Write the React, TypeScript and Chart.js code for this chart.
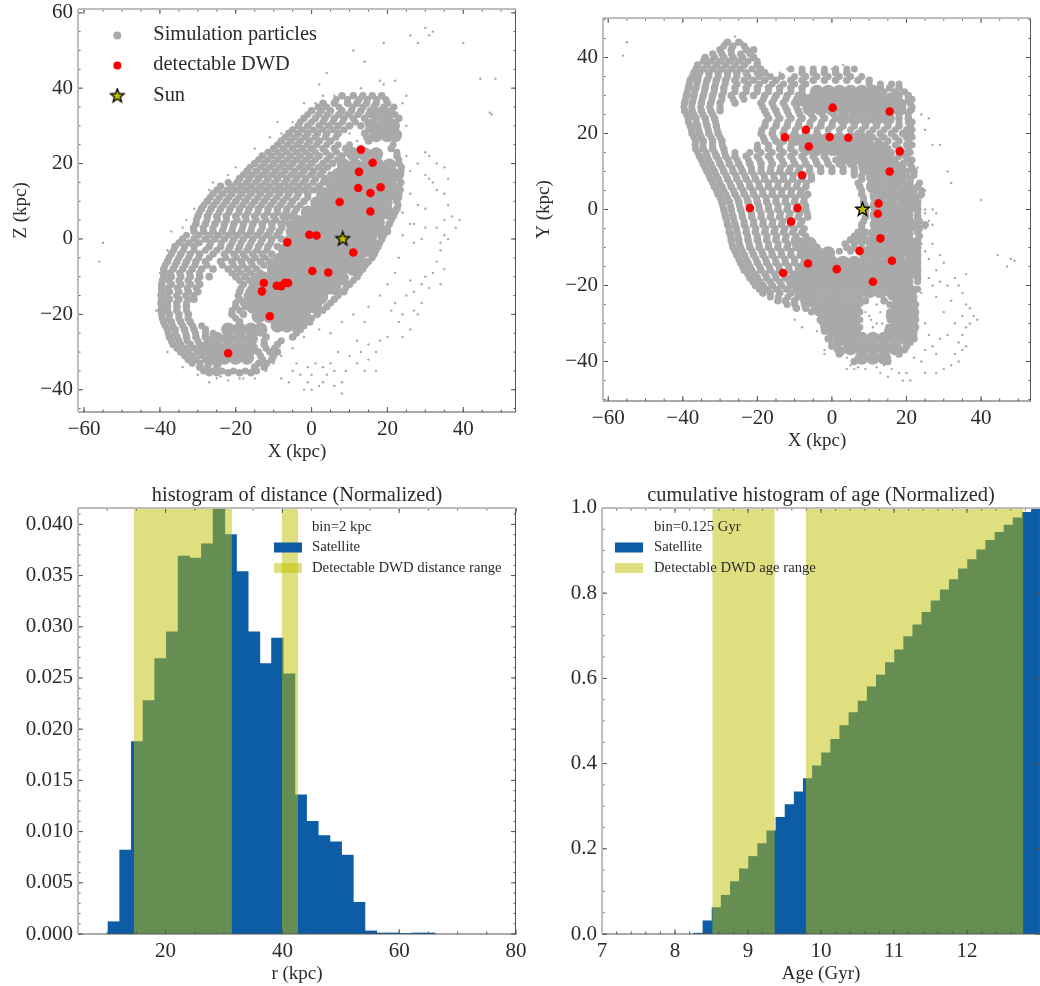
import React, { useEffect, useRef } from "react";
import { Chart, registerables } from "chart.js";

Chart.register(...registerables);

const FONT = "'Liberation Serif', serif";
const TEXT = "#2b2b2b";
const GRAY = "#a9a9a9";
const BLUE = "#0c5da5";
const SPAN = "rgba(191,191,0,0.5)";

// ---------- detectable binaries & Sun ----------
const dwdX = [13, 16.1, 12.5, 12.3, 18.2, 15.5, 7.4, 15.5, -0.6, 1.3, -6.4, 11, 0.2, 4.4, -12.6, -13.1, -9.2, -8, -7, -6.2, -11, -22];
const dwdZ = [23.7, 20.2, 17.8, 13.5, 13.7, 12.2, 9.8, 7.3, 1.1, 0.9, -0.9, -3.6, -8.5, -8.9, -11.7, -13.9, -12.4, -12.5, -11.6, -11.7, -20.5, -30.3];
const dwdY = [-7.6, -13.5, 1.6, -1.1, 15.3, 25.8, -10.9, 10, 19.1, -15.7, -14.2, -19, 26.8, 18.9, 19, -16.7, 0.4, 9, 21, 16.6, -3.2, 0.4];
const sunX = 8.2;
const sunY = 0;

// ---------- X-Z particles, as rows [z, x, x, ...] ----------
const xzCore = [
  [22.5, 11, 14, 17], [19.5, 8.5, 11.5, 14.5, 17.5, 20.5], [17, 7, 10, 13, 16, 19, 21.5], [14.5, 5.5, 8.5, 11.5, 14.5, 17.5, 20.5],
  [12, 3, 6, 9, 12, 15, 18, 21], [9.5, 1.5, 4.5, 7.5, 10.5, 13.5, 16.5, 19.5], [7, -1, 2, 5, 8, 11, 14, 17, 20], [4.5, -3.5, -0.5, 2.5, 5.5, 8.5, 11.5, 14.5, 17.5],
  [2, -5, -2, 1, 4, 7, 10, 13, 16, 18], [-0.5, -5.5, -2.5, 0.5, 3.5, 6.5, 9.5, 12.5, 15.5], [-3, -7, -4, -1, 2, 5, 8, 11, 14, 15.5], [-5.5, -8.5, -5.5, -2.5, 0.5, 3.5, 6.5, 9.5, 12.5],
  [-8, -10, -7, -4, -1, 2, 5, 8, 11], [-10.5, -12.5, -9.5, -6.5, -3.5, -0.5, 2.5, 5.5, 8], [-13, -14, -11, -8, -5, -2, 1, 4, 6], [-15.5, -15, -12.5, -9.5, -6.5, -3.5, -0.5, 2.5],
  [-18, -15.5, -13, -10, -7, -4, -1, 1], [-20.5, -14, -11, -8, -5, -2], [-23, -9, -6.5, -4],
  [-24, -22, -19, -16, -13.5], [-26.5, -25, -22, -19, -16], [-29, -28, -25, -22, -19, -16], [-31.5, -26, -23, -20, -17],
  [33, 17, 20], [30, 16, 19, 21.5], [27.5, 17, 20, 22],
];
const xzBand = [
  [38, 8, 11, 13.5, 16, 18.5], [36, 3, 6, 9.5, 12, 14.5, 17, 20], [34, 0, 2.5, 5, 8, 10.5, 13, 15.5, 18, 21], [32, -2, 1, 3.5, 6, 8.5, 11, 14, 23],
  [30, -3.5, -1, 2, 4.5, 7, 10, 13], [28, -6, -3.5, -1, 1.5, 4, 7, 14], [26, -8, -5.5, -3, -0.5, 2, 5, 15], [24, -10, -7.5, -5, -2.5, 0, 3, 6, 9, 21],
  [22, -13, -10.5, -8, -5.5, -3, -0.5, 2, 5, 8, 22.5], [20, -15, -12.5, -10, -7.5, -5, -2.5, 0, 3, 5.5, 23], [18, -17, -14.5, -12, -9.5, -7, -4.5, -2, 0.5, 3, 23.5], [16, -19, -16.5, -14, -11.5, -9, -6.5, -4, -1.5, 1, 3.5, 23],
  [14, -24, -21, -18.5, -16, -13.5, -11, -8.5, -6, -3.5, -1, 2, 23], [12, -26, -23.5, -21, -18.5, -16, -13.5, -11, -8.5, -6, -3.5, -1, 23], [10, -27.5, -25, -22.5, -20, -17.5, -15, -12.5, -10, -7.5, -5, -2, 22.5], [8, -29, -26.5, -24, -21.5, -19, -16.5, -14, -11.5, -9, -6.5, -4, 22.5],
  [6, -30, -27.5, -25, -22.5, -20, -17.5, -15, -12.5, -10, -7.5, -5.5, 21.5], [4, -30.5, -28, -25.5, -23, -20.5, -18, -15.5, -13, -10.5, -8, -6, 20.5], [2, -31, -28.5, -26, -23.5, -21, -18.5, -16, -13.5, -11, -8.5, 20], [0, -34, -31, -28, -25.5, -23, -20.5, -18, -15.5, -13, -10.5, -8, 18.5],
  [-2, -36, -33.5, -31, -27, -24, -21.5, -19, -16.5, -14, -11.5, -9, 17.5], [-4, -37, -34.5, -32, -29.5, -26, -23, -20.5, -18, -15.5, -13, -10.5, 16.5], [-6, -38, -35.5, -33, -30.5, -28, -24, -21, -18.5, -16, -13.5, -11, 15], [-8, -39, -36.5, -34, -31.5, -29, -26, -22, -19.5, -17, -14.5, 13.5],
  [-10, -39, -37, -34.5, -32, -29.5, -27, -20, -17.5, -15, 12], [-12, -39.5, -37, -34.5, -32, -29.5, -18, -15.5, 10], [-14, -39.5, -37.5, -35, -32.5, -30, -19, -16.5, 8.5], [-16, -39.5, -37.5, -35, -32.5, -31, -19, -17, 6],
  [-18, -39.5, -38, -35.5, -33, -20, -17.5, 4], [-20, -39.5, -37.5, -35, -32.5, -21, -18, 1.5], [-22, -39, -37, -34.5, -32, -19, -0.5], [-24, -38, -36, -33.5, -31, -28, -3],
  [-26, -37.5, -35.5, -33, -30.5, -28, -26, -12, -5], [-28, -36.5, -34.5, -32, -29.5, -27, -12.5, -9], [-30, -34.5, -32.5, -30, -27.5, -14, -11, -9], [-32, -32.5, -30.5, -28, -13, -10.5],
  [-34, -29.5, -27.5, -25, -15, -12.5], [-35.5, -27, -25, -22, -19, -16],
];
const xzFill = [
  [37, 6.5, 9.5, 12.5, 14.7, 17.2, 19.6], [35, 1.7, 4, 7.2, 10.8, 13.6, 16.4, 19, 21.7], [33, -1, 1.8, 4.2, 7.1, 9.6, 12.3, 15, 22], [31, -3, 0, 3, 5.6, 8.2, 11.5, 14.8],
  [29, -5, -2.3, 0.4, 3, 5.7, 8.6, 15], [27, -7, -4.5, -1.8, 0.9, 3.6, 6.4, 14.5], [25, -9, -6.4, -3.9, -1.2, 1.3, 4, 7, 10, 21.5], [23, -11.5, -9, -6.6, -4, -1.6, 1, 3.8, 6.6, 9.4, 22.5],
  [21, -14, -11.6, -9, -6.4, -4, -1.5, 1, 4, 6.8, 23], [19, -16.2, -13.4, -11, -8.4, -6, -3.2, -1, 1.8, 4.2, 23.7], [17, -18, -15.6, -13, -10.4, -8, -5.3, -3, -0.2, 2.2, 5, 23.5], [15, -22, -19.7, -17.2, -14.8, -12.2, -9.8, -7.2, -4.8, -2.2, 0.4, 3, 23.6],
  [13, -25, -22.3, -19.8, -17.2, -14.8, -12.2, -9.6, -7.2, -4.8, -2.2, 0.5, 23.4], [11, -26.8, -24.3, -21.8, -19.2, -16.8, -14.2, -11.8, -9.2, -6.6, -4, -1, 23], [9, -28.4, -25.8, -23.2, -20.8, -18.2, -15.8, -13.2, -10.8, -8.2, -5.6, -3, 22.8], [7, -29.6, -27, -24.4, -21.8, -19.2, -16.8, -14.2, -11.6, -9, -6.8, -4.5, 22],
  [5, -30.4, -27.6, -24.8, -22.4, -19.6, -17.2, -14.6, -12, -9.4, -7, 21], [3, -31.2, -28.6, -26, -23.2, -20.8, -18.2, -15.8, -13, -10.4, -7.8, 20], [1, -33, -29.8, -27, -24.6, -22, -19.6, -17, -14.4, -11.8, -9.2, 19], [-1, -35, -32.4, -29.6, -26.6, -23.8, -21, -18.6, -16, -13.4, -10.8, 18],
  [-3, -36.4, -33.8, -31, -28, -25, -22, -19.4, -17, -14.4, -11.8, 17], [-5, -37.6, -35, -32.4, -29.8, -27, -22.6, -19.8, -17.4, -14.8, -12.2, 16], [-7, -38.6, -36, -33.4, -30.8, -27.6, -23.5, -20.6, -18.2, -15.6, -12.6, 14.2], [-9, -39, -37.4, -34.8, -32.2, -29.6, -21, -18.6, -16, -13.5, 12.6],
  [-11, -39.4, -37.6, -35, -32.6, -30, -19, -16.4, -14.5, 11], [-13, -39.6, -37.8, -35.4, -32.8, -30.4, -18.6, -16, 9], [-15, -39.8, -38.2, -35.6, -33.2, -31, -19.4, -17, 7], [-17, -39.8, -38, -35.6, -33, -20, -18, 5],
  [-19, -39.8, -38, -35.6, -33, -21, -19, 3], [-21, -39.4, -37.6, -35, -32.6, -20, 0], [-23, -38.6, -36.6, -34, -31.4, -29, -2], [-25, -37.8, -36, -33.2, -30.6, -28, -26, -13, -4],
  [-27, -37, -35, -32.8, -30, -27.5, -12.5, -8], [-29, -35.5, -33.4, -31, -28.6, -12, -9.8], [-31, -33.5, -31.4, -29, -26.6, -13.5, -10], [-33, -31.5, -29.4, -27, -24.5, -14, -11.8],
  [-35, -28.5, -26.4, -23.6, -20.6, -17.5, -14.5],
];
const xzSparseX = [25, 26, 28, 30, 31, 33, 35, 36, 31, 32, 30, 33, 35, 26, 28, 30, 36, 37, 35, 38, 39, 33, 35, 34, 36, 30, 29, 27, 34, 33, 35, 32, 30, 31, 34, 29, 27, 26, 25, 24, 27, 29, 28, 26, 23, 21, 22, 24, 20, 18, 17, 15, 13, 12, 15, 12, 10, 9, 14, 17, 8, 6, 5, 3, 1, 0, -1, -3, -5, -8, -6, -2, 0, 2, 3, -4, 7, 6, 8, 4, -1, 24, 26, 24, 27, 23, 22, 20, 18, 15, 14, 11, 8, 5, 2, -2, -5, -8, -10, -12, -15, -18, 25, 23, 24, 25, 22, 18, 19, 13, 6, 3, 1, -2, -1, -5, -8, -11, -9, -15, -20, -22, -26, -27, -31, -34, -33, -37, -38, -40, -41, -38, -34, -30, -27, -55, -56, 30, 31, 32, 26, 28, 19, 40, 11, 14, 4, 2, 44.5, 48.5, 47, 47.5, 10, 12, 8, 7, 11, -25, -22, -19, -24];
const xzSparseZ = [22, 18, 20, 23, 22, 20, 19, 16, 16, 15, 17, 13, 12, 12, 9, 8, 9, 6, 5, 3, 5, 3, 1, -1, 0, 3, 0, -1, -3, -6, -8, -9, -10, -13, -12, -12, -14, -11, -15, -20, -19, -17, -20, -24, -22, -19, -17, -26, -26, -27, -30, -28, -30, -27, -32, -33, -31, -35, -35, -35, -38, -35, -33, -34, -33, -36, -34, -36, -35, -37, -38, -40, -40, -39, -38, -33, -30, -39, -41, -36, -38, 7, 4, 1, 4, -5, -9, -12, -15, -18, -22, -20, -22, -25, -24, -26, -29, -31, -33, -35, -37, -37, 30, 32, 36, 38, 42, 42, 41, 40, 38, 38, 36, 36, 33, 31, 28, 27, 31, 24, 19, 17, 15, 13, 8, 3, 5, 2, -3, -9, -19, -30, -34, -36, -38, -1, -6, 56, 54, 55, 54, 52, 52, 52, 50, 47, 44, 41, 42.5, 42.5, 33.5, 33, 28, 26, 29, 25, 24, -37, -37.5, -37, -36.5];

// ---------- X-Y particles, as rows [y, x, x, ...] ----------
const xyCore = [
  [-39, 8, 11, 14], [-36.5, 5, 8, 11, 14, 17], [-34, 2, 5, 8, 11, 14, 17, 20], [-31.5, 0, 3, 6, 16.5, 19, 21],
  [-29, -2, 1, 4, 6, 17.5, 20, 21], [-26.5, -3, 0, 3, 6, 17.5, 20, 21], [-24, -5, -2, 1, 4, 7, 18, 20, 21], [-21.5, -8, -5, -2, 1, 4, 7, 10, 13, 16, 19, 21],
  [-19, -10, -7, -4, -1, 2, 5, 8, 11, 14, 17, 20], [-16.5, -8, -5, -2, 1, 4, 7, 10, 13, 16, 19, 21], [-14, -6, -3, 0, 3, 6, 9, 12, 15, 18, 21], [-11.5, -7, -4, -1, 9, 12, 15, 18, 21],
  [-9, -9, -6, 11, 13, 16, 19, 21], [-6.5, 11.5, 14, 17, 20], [-4, 12, 15, 18, 21], [-1.5, 12, 14, 17, 20],
  [1, 12, 13, 16, 19, 21], [3.5, 12, 13, 16, 19, 20.5], [6, 11, 13, 16, 19], [8.5, 11, 13, 16, 18],
  [11, 9, 11, 14, 17], [13.5, 3, 6, 9, 12, 15], [16, -5, -2, 1, 4, 7, 10, 13], [18.5, -10, -7, -4, -1, 2, 5, 8],
  [24, 3, 6, 9, 12, 15], [26.5, -6, -3, 0, 3, 6, 9, 12, 15, 18], [29, -8, -5, -2, 1, 4, 7, 10, 13, 16], [31, -4, -1, 2, 5, 8, 11],
];
const xyBand = [
  [44, -28, -25], [42, -30, -27, -23, -21], [40, -34, -31.5, -29, -26.5, -24, -21], [38, -36, -33.5, -31, -28.5, -26, -23.5, -20],
  [36, -37, -35.5, -33, -30.5, -28, -25.5, -23, -20, -18, -8, -5, -2, 1, 4], [34, -38, -36, -33.5, -31, -28.5, -26, -23.5, -21, -18, -15, -11, -8, -5, -2, 1, 4, 7, 10], [32, -38.5, -36.5, -34, -31.5, -29, -26, -23, -20, -17, -14, -11, -8, 13, 15.5, 18], [30, -39, -37, -34.5, -32, -29.5, -27, -24, -21, -18, -15, -12, -9, 18, 20.5],
  [28, -39.5, -37.5, -35, -32.5, -30, -26, -19, -16, -13, -10, -7, 19, 21], [26, -39.5, -37.5, -35, -32.5, -30, -18, -15, -12, -9, -6.5, 19, 21], [24, -38.5, -36.5, -34, -31.5, -17, -14, -11, -8, -5, -2, 1, 18, 20.5], [22, -38, -36, -33.5, -31, -18, -15, -12, -9, -6, -3, 0, 3, 6, 9, 12, 15, 18, 21],
  [20, -37.5, -35.5, -33, -30.5, -19, -16, -13, -10, -7, -4, 7, 10, 13, 16, 19, 21], [18, -36.5, -34.5, -32, -29.5, -18, -15, -13, 10, 12.5, 15, 18, 20.5], [16, -36.5, -34.5, -32, -29, -20, -17, -14, -11, -8, 15, 18, 20.5], [14, -35.5, -33.5, -31, -28.5, -26, -23, -20, -17, -14, -11, -8, -5, -2, 18, 20],
  [12, -34.5, -32.5, -30, -27.5, -25, -22, -19, -16, -13, -10, -7, -4, -1, 2, 5, 8, 11, 14, 16, 19, 21], [10, -33.5, -31.5, -29, -26.5, -24, -21.5, -19, -16.5, -14, -11.5, -9, -6, -3, 0, 3, 6, 20, 22], [8, -32.5, -30.5, -28, -25.5, -23, -20.5, -18, -15.5, -13, -10.5, -8, -5.5, 8, 19, 21], [6, -31.5, -29.5, -27, -24.5, -22, -19.5, -17, -14.5, -12, -9.5, -7, 7.5, 21, 23],
  [4, -30.5, -28.5, -26, -23.5, -21, -18.5, -16, -13.5, -11, -8.5, -6.5, 8, 22, 24], [2, -29.5, -27.5, -25, -22.5, -20, -17.5, -15, -12.5, -10, -7.5, 8.5, 23], [0, -29, -27, -24.5, -22, -19.5, -17, -14.5, -12, -9.5, -7, 9, 23], [-2, -28.5, -26.5, -24, -21.5, -19, -16.5, -14, -11.5, -9, -6.5, 9, 23],
  [-4, -28, -26, -23.5, -21, -18.5, -16, -13.5, -11, -8.5, 8, 23, 25], [-6, -27.5, -25.5, -23, -20.5, -18, -15.5, -13, -10.5, -8, 7, 9, 23], [-8, -27, -25, -22.5, -20, -17.5, -15, -12.5, -10, -7, 5, 7, 9, 23], [-10, -26.5, -24.5, -22, -19.5, -17, -14.5, -12, -9.5, -4, 4, 6, 23],
  [-12, -25.5, -23.5, -21, -18.5, -16, -13.5, -11, -8.5, 23], [-14, -24.5, -22.5, -20, -17.5, -15, -12.5, -10, -7.5, 23], [-16, -23.5, -21.5, -19, -16.5, -14, -11.5, -9, 23], [-18, -22, -20, -17.5, -15, -12.5, -11, 23],
  [-20, -20.5, -18.5, -16, -13.5, -11], [-22, -18.5, -16.5, -14, -11, -9], [-24, -14.5, -12.5, -10, -7.5, -4.5, 9, 14], [-26, -9.5, -7, -4.5, 22],
  [-28, 15.5, 22], [-30, 22], [-32, -2, 15, 22], [-34, -1, 22], [-36, 0, 1.5, 20], [-38, 2, 18], [-40, 6, 15],
];
const xyFill = [
  [43, -29, -26.5, -23.5], [41, -32, -29.5, -27, -24.5, -22], [39, -34.5, -32.5, -30, -27.5, -25, -22.5, -20], [37, -36.5, -34.5, -32, -29.5, -27, -24.5, -21.5, -19, -11, -8, -5, -2, 1, 4, 6],
  [35, -37.5, -35.8, -33, -30.5, -28, -25.5, -22.5, -19.5, -16.5, -13.5, -10, -7, -4, -1, 2, 5, 8], [33, -38.3, -36.2, -33.8, -31.2, -28.6, -25.4, -22.4, -19.4, -16, -13, -10, -7, 10, 13, 16, 18], [31, -38.8, -36.8, -34.2, -31.6, -29, -26, -23, -20, -17, -14, -11, -8, -5, 12, 14, 17, 19.5], [29, -39.3, -37.2, -34.8, -32.2, -29.5, -26.5, -23.6, -18.4, -15.5, -12.4, -9.5, 18, 20.5, 21.5],
  [27, -39.7, -37.6, -35.2, -32.8, -30, -18.6, -15.6, -12.5, -9.5, -7, -4, 19, 21.5], [25, -39, -37, -34.6, -32, -17.5, -14.6, -11.6, -8.6, -5.5, -2.5, 0.5, 18, 20.5], [23, -38.5, -36.4, -33.8, -31.2, -17.8, -14.8, -11.8, -8.8, -5.8, -2.8, 0.2, 3, 6, 9, 12, 15, 18, 20.5, 21.5], [21, -37.7, -35.8, -33.2, -30.8, -18.8, -15.8, -12.8, -9.8, -4, -1, 2, 5, 8, 11, 14, 17, 20, 21.5],
  [19, -37, -35, -32.4, -30, -18.4, -15.6, -12.6, 11, 14, 17, 20, 21.5], [17, -36.7, -34.6, -32, -29.4, -20, -17, -14, -11, -8, -1, 2, 5, 8, 11, 14, 17, 20, 21.5], [15, -36, -33.8, -31.4, -28.8, -26, -22, -19, -16, -13, -10, -7, -4, 0, 16, 19, 21], [13, -35, -33, -30.4, -27.8, -25.4, -22.4, -19.4, -16.4, -13.4, -10.4, -7.4, -4.4, -1.4, 1, 17, 20, 21.5],
  [11, -34, -32, -29.4, -26.8, -24.4, -21.6, -19, -16.4, -13.8, -11.2, -8.6, -6, -3, 0, 3, 6, 19, 21.5], [9, -33, -31, -28.4, -25.8, -23.4, -20.8, -18.2, -15.6, -13, -10.4, -7.8, -5.5, 6, 8, 20, 22], [7, -32, -30, -27.4, -24.8, -22.2, -19.6, -17, -14.4, -11.8, -9.2, -6.8, 7, 21, 23.5], [5, -31, -29, -26.4, -23.8, -21.2, -18.6, -16, -13.4, -10.8, -8.2, 8, 22, 24],
  [3, -30, -28, -25.4, -22.8, -20.2, -17.6, -15, -12.4, -9.8, -7.4, 8.5, 22.6], [1, -29.3, -27.2, -24.8, -22.2, -19.6, -17, -14.4, -11.8, -9.2, -7, 9, 23], [-1, -28.8, -26.8, -24.2, -21.6, -19, -16.4, -13.8, -11.2, -8.6, -6.6, 9, 23], [-3, -28.2, -26.2, -23.6, -21, -18.4, -15.8, -13.2, -10.6, -8, 8.5, 23.5],
  [-5, -27.6, -25.6, -23, -20.4, -17.8, -15.2, -12.6, -10, -7.4, 8, 23.5], [-7, -27.2, -25.2, -22.6, -20, -17.4, -14.8, -12.2, -9.6, -7, 6, 8, 23.5], [-9, -26.8, -24.8, -22.2, -19.6, -17, -14.4, -11.8, -9.2, -5, 3.5, 6, 8, 23], [-11, -26, -24, -21.4, -18.8, -16.2, -13.6, -11, -8.4, -5, 2, 5, 23],
  [-13, -25, -23, -20.4, -17.8, -15.2, -12.6, -10, -7.4, -4.5, 23], [-15, -24, -22, -19.4, -16.8, -14.2, -11.6, -9, -6, 23], [-17, -22.6, -20.6, -18, -15.4, -12.8, -10.2, 23], [-19, -21.2, -19.2, -16.6, -14, -11.4, 23],
  [-21, -19.5, -17.4, -14.8, -12.2, -9.6, 23], [-23, -16.5, -14.4, -11.8, -9.2, -6.6, 16, 22], [-25, -12, -10, -7.4, -4.8, 15.5, 22.5], [-27, -5.5, -3.8, 7.5, 15.5, 22.5],
  [-29, -3.2, 7.5, 15.6, 22.5], [-31, -2.2, 7.5, 15.2, 22.5], [-33, -0.5, 22], [-35, 0, 1, 3, 21],
  [-37, 1.5, 3, 19.5],
];
const xySparseX = [25, 28, 30, 32, 34, 33, 35, 34, 36, 35, 36, 37, 38, 39, 37, 35, 33, 31, 29, 27, 28, 25, 24, 22, 20, 18, 21, 19, 16, 15, 13, 36, 35, 34, 32, 30, 28, 27, 26, 29, 31, 33, 36, 30, 28, 26, 25, 24, 27, 29, 25, 26, 27, 25, 27, 28, 25, 24, 24, 25, 23, 25, 26, 22, 24, 27, 29, 31, 32, 40, 44.5, 47, 48, 49, -55, -56, -26, -29, -24, 3, 0, -12, -14, -2, -10, -8, -4, 1, 3, 4, 6, -2, 25, 26, 23, 24, 23, 9, 10.5, 12, 13.5, 9.5, 11, 13, 10, 12, 14, 5, 7, 9, 12, 14, 4, 17];
const xySparseY = [-43, -43, -42, -41, -40, -38, -37, -35, -36, -33, -31, -30, -28, -29, -26, -28, -30, -33, -34, -36, -38, -37, -40, -39, -43, -43, -45, -45, -42, -44, -43, -25, -22, -20, -24, -27, -23, -20, -18, -19, -20, -18, -17, -14, -16, -13, -11, -9, -9, -12, -5, -3, -4, 0, 0, -1, -1, 3, 7, 5, 11, 21, 24, 26, 25, 17, 17, 10, 7, 2.5, -12, -15, -13, -13.5, 44, 40.5, 45.5, 44, 44, 38, 37, 37, 36, -38, -29, -31, -32, -36, -38, -42, -42, -37, -30, -33, -28, -22, -18, -27, -29, -25, -30, -24, -31, -27, -28, -30, -24, -41, -41.5, -42, -41.5, -41, -39, -38];

// ---------- histograms ----------
const rBins = [11.14, 13.14, 15.14, 17.14, 19.14, 21.14, 23.14, 25.14, 27.14, 29.14, 31.14, 33.14, 35.14, 37.14, 39.14, 41.14, 43.14, 45.14, 47.14, 49.14, 51.14, 53.14, 55.14, 57.14, 59.14, 61.14, 63.14, 65.14];
const rDensity = [0.0012, 0.0082, 0.0188, 0.0228, 0.0269, 0.0295, 0.0369, 0.0367, 0.0381, 0.0416, 0.039, 0.0354, 0.0295, 0.0264, 0.0289, 0.0254, 0.0136, 0.011, 0.0096, 0.009, 0.0077, 0.0031, 0.0003, 0.0001, 0.0001, 0.00005, 0.0001, 0.0001];
const rSpans = [[14.55, 31.36], [39.9, 42.7]];
const ageBins = [8.32, 8.445, 8.57, 8.695, 8.82, 8.945, 9.07, 9.195, 9.32, 9.445, 9.57, 9.695, 9.82, 9.945, 10.07, 10.195, 10.32, 10.445, 10.57, 10.695, 10.82, 10.945, 11.07, 11.195, 11.32, 11.445, 11.57, 11.695, 11.82, 11.945, 12.07, 12.195, 12.32, 12.445, 12.57, 12.695, 12.82, 12.945];
const ageCumulative = [0.002, 0.031, 0.062, 0.091, 0.123, 0.153, 0.182, 0.212, 0.242, 0.274, 0.304, 0.334, 0.365, 0.395, 0.425, 0.457, 0.489, 0.52, 0.547, 0.58, 0.608, 0.637, 0.667, 0.698, 0.726, 0.755, 0.782, 0.808, 0.832, 0.857, 0.879, 0.902, 0.924, 0.943, 0.96, 0.977, 0.99, 1];
const ageSpans = [[8.51, 9.367], [9.79, 12.773]];

// ---------- ticks ----------
const posTicksX = [-60, -40, -20, 0, 20, 40];
const xzTicksY = [-40, -20, 0, 20, 40, 60];
const xyTicksY = [-40, -20, 0, 20, 40];
const rTicks = [20, 40, 60, 80];
const densityTicks = [0, 0.005, 0.01, 0.015, 0.02, 0.025, 0.03, 0.035, 0.04];
const ageTicks = [7, 8, 9, 10, 11, 12];
const cumTicks = [0, 0.2, 0.4, 0.6, 0.8, 1];

const fromRows = (rows: number[][]) => rows.flatMap(([y, ...xs]) => xs.map((x) => ({ x, y })));
const zip = (xs: number[], ys: number[]) => xs.map((x, i) => ({ x, y: ys[i] }));
const range = (a: number, b: number, s: number) => {
  const out: number[] = [];
  for (let k = 0; a + k * s <= b + s * 1e-6; k++) out.push(a + k * s);
  return out;
};

const makeStar = (size: number) => {
  const c = document.createElement("canvas");
  c.width = size;
  c.height = size;
  const g = c.getContext("2d")!;
  const R = size / 2 - 1.2;
  const m = size / 2;
  g.beginPath();
  for (let i = 0; i < 10; i++) {
    const r = i % 2 ? R * 0.42 : R;
    const a = -Math.PI / 2 + (i * Math.PI) / 5;
    g.lineTo(m + r * Math.cos(a), m + r * Math.sin(a));
  }
  g.closePath();
  g.fillStyle = "#bfbf00";
  g.fill();
  g.strokeStyle = "#000";
  g.lineWidth = 1.3;
  g.stroke();
  return c;
};

type LegendRow = { text: string; y: number; kind: "none" | "gray" | "red" | "star" | "blue" | "span" };

const framePlugin = (xMinor: number[], yMinor: number[], xMajor: number[], yMajor: number[]) => ({
  id: "frame",
  afterDatasetsDraw(chart: any) {
    const { ctx, chartArea: a, scales } = chart;
    ctx.save();
    ctx.strokeStyle = "#555";
    ctx.lineWidth = 1;
    const seg = (x1: number, y1: number, x2: number, y2: number) => {
      ctx.beginPath();
      ctx.moveTo(x1, y1);
      ctx.lineTo(x2, y2);
      ctx.stroke();
    };
    const xt = (vals: number[], l: number) =>
      vals.forEach((v) => {
        const p = scales.x.getPixelForValue(v);
        if (p < a.left || p > a.right) return;
        seg(p, a.bottom, p, a.bottom - l);
        seg(p, a.top, p, a.top + l);
      });
    const yt = (vals: number[], l: number) =>
      vals.forEach((v) => {
        const p = scales.y.getPixelForValue(v);
        if (p < a.top || p > a.bottom) return;
        seg(a.left, p, a.left + l, p);
        seg(a.right, p, a.right - l, p);
      });
    xt(xMinor, 2.5);
    yt(yMinor, 2.5);
    xt(xMajor, 5);
    yt(yMajor, 5);
    seg(a.right - 0.5, a.top, a.right - 0.5, a.bottom);
    seg(a.left, a.bottom, a.right, a.bottom);
    ctx.strokeStyle = "#bdbdbd";
    ctx.lineWidth = 2;
    seg(a.left, a.top, a.left, a.bottom);
    seg(a.left, a.top, a.right, a.top);
    ctx.restore();
  },
});

const legendPlugin = (rows: LegendRow[], markX: number, textX: number, size: number, star?: HTMLCanvasElement) => ({
  id: "panelLegend",
  afterDraw(chart: any) {
    const { ctx } = chart;
    ctx.save();
    ctx.font = `${size}px ${FONT}`;
    ctx.textBaseline = "middle";
    ctx.textAlign = "left";
    rows.forEach((r) => {
      ctx.fillStyle = TEXT;
      ctx.fillText(r.text, textX, r.y);
      if (r.kind === "gray" || r.kind === "red") {
        ctx.fillStyle = r.kind === "gray" ? GRAY : "#ff0000";
        ctx.beginPath();
        ctx.arc(markX, r.y + 0.5, 4, 0, Math.PI * 2);
        ctx.fill();
      } else if (r.kind === "star" && star) {
        ctx.drawImage(star, markX - star.width / 2, r.y - star.height / 2);
      } else if (r.kind === "blue" || r.kind === "span") {
        ctx.fillStyle = r.kind === "blue" ? BLUE : SPAN;
        ctx.fillRect(markX, r.y - 5, 28, 10);
      }
    });
    ctx.restore();
  },
});

const axis = (
  title: string,
  min: number,
  max: number,
  ticks: number[],
  fmt: (v: number) => string,
  fit: (s: any) => void,
  titlePad: { top: number; bottom: number },
  tickPad: number,
) => ({
  type: "linear",
  min,
  max,
  offset: false,
  grid: { display: false, drawTicks: false },
  border: { display: false },
  afterBuildTicks: (s: any) => {
    s.ticks = ticks.map((value) => ({ value }));
  },
  afterFit: (s: any) => {
    fit(s);
    s.paddingLeft = 0;
    s.paddingRight = 0;
    s.paddingTop = 0;
    s.paddingBottom = 0;
  },
  ticks: {
    autoSkip: false,
    maxRotation: 0,
    padding: tickPad,
    color: TEXT,
    font: { family: FONT, size: 21 },
    callback: (v: number) => fmt(v),
  },
  title: {
    display: title !== "",
    text: title,
    color: TEXT,
    font: { family: FONT, size: 19 },
    padding: titlePad,
  },
});

const intFmt = (v: number) => String(v).replace("-", "\u2212");

const baseOptions = (pad: any, x: any, y: any, title?: string, titleFont = 20.4) => ({
  responsive: false,
  animation: false,
  layout: { padding: pad },
  scales: { x, y },
  plugins: {
    legend: { display: false },
    tooltip: { enabled: false },
    title: title
      ? { display: true, text: title, fullSize: false, color: TEXT, font: { family: FONT, size: titleFont, weight: "normal" }, padding: { top: 13, bottom: 0.5 } }
      : { display: false },
  },
});

const scatterSets = (core: any[], band: any[], fill: any[], sparse: any[], dwd: any[], star: HTMLCanvasElement) => [
  { label: "Sun", data: [{ x: sunX, y: sunY }], pointStyle: star, pointRadius: 8 },
  { label: "detectable DWD", data: dwd, backgroundColor: "#ff0000", pointRadius: 4.3, pointBorderWidth: 0 },
  { label: "Simulation particles", data: sparse, backgroundColor: GRAY, pointRadius: 1.2, pointBorderWidth: 0 },
  { label: "band", data: band, backgroundColor: GRAY, pointRadius: 3.8, pointBorderWidth: 0 },
  { label: "fill", data: fill, backgroundColor: GRAY, pointRadius: 3.5, pointBorderWidth: 0 },
  { label: "core", data: core, backgroundColor: GRAY, pointRadius: 7, pointBorderWidth: 0 },
];

const spanSets = (spans: number[][], top: number) =>
  spans.map(([a, b]) => ({
    type: "line",
    data: [{ x: a, y: top }, { x: b, y: top }],
    borderWidth: 0,
    borderColor: "transparent",
    pointRadius: 0,
    fill: "origin",
    backgroundColor: SPAN,
    tension: 0,
  }));

const barSet = (xs: number[], ys: number[]) => ({
  type: "bar",
  label: "Satellite",
  data: zip(xs, ys),
  backgroundColor: BLUE,
  barPercentage: 1,
  categoryPercentage: 1,
  grouped: false,
});

const canvasStyle = (left: number, top: number): React.CSSProperties => ({ position: "absolute", left, top, display: "block" });

export default function App() {
  const r1 = useRef<HTMLCanvasElement>(null);
  const r2 = useRef<HTMLCanvasElement>(null);
  const r3 = useRef<HTMLCanvasElement>(null);
  const r4 = useRef<HTMLCanvasElement>(null);

  useEffect(() => {
    const star = makeStar(17);
    const charts: Chart[] = [];

    charts.push(
      new Chart(r1.current!, {
        type: "scatter",
        data: { datasets: scatterSets(fromRows(xzCore), fromRows(xzBand), fromRows(xzFill), zip(xzSparseX, xzSparseZ), zip(dwdX, dwdZ), star) as any },
        options: baseOptions(
          { top: 6, right: 19, left: 0, bottom: 0 },
          axis("X (kpc)", -61.6, 53.9, posTicksX, intFmt, (s) => (s.height = 58), { top: 0, bottom: 7 }, 5),
          axis("Z (kpc)", -45.9, 61, xzTicksY, intFmt, (s) => (s.width = 78), { top: 10, bottom: 0 }, 5),
        ) as any,
        plugins: [
          framePlugin(range(-60, 50, 5), range(-45, 60, 5), posTicksX, xzTicksY),
          legendPlugin(
            [
              { text: "Simulation particles", y: 35, kind: "gray" },
              { text: "detectable DWD", y: 65, kind: "red" },
              { text: "Sun", y: 96, kind: "star" },
            ],
            117.3,
            153.3,
            20.4,
            star,
          ),
        ] as any,
      }),
    );

    charts.push(
      new Chart(r2.current!, {
        type: "scatter",
        data: { datasets: scatterSets(fromRows(xyCore), fromRows(xyBand), fromRows(xyFill), zip(xySparseX, xySparseY), zip(dwdX, dwdY), star) as any },
        options: baseOptions(
          { top: 18, right: 1, left: 0, bottom: 0 },
          axis("X (kpc)", -61.4, 53.4, posTicksX, intFmt, (s) => (s.height = 69), { top: 0, bottom: 18 }, 5),
          axis("Y (kpc)", -50.4, 50.4, xyTicksY, intFmt, (s) => (s.width = 78), { top: 8, bottom: 0 }, 5),
        ) as any,
        plugins: [framePlugin(range(-60, 50, 5), range(-50, 50, 5), posTicksX, xyTicksY)] as any,
      }),
    );

    charts.push(
      new Chart(r3.current!, {
        type: "bar",
        data: { datasets: [...spanSets(rSpans, 0.0416), barSet(rBins, rDensity)] as any },
        options: baseOptions(
          { top: 0, right: 19, left: 0, bottom: 0 },
          axis("r (kpc)", 5, 80, rTicks, intFmt, (s) => (s.height = 52), { top: 0, bottom: 1 }, 5),
          axis("", 0, 0.0416, densityTicks, (v) => v.toFixed(3), (s) => (s.width = 78), { top: 0, bottom: 0 }, 5),
          "histogram of distance (Normalized)",
        ) as any,
        plugins: [
          framePlugin(range(5, 80, 5), range(0, 0.0416, 0.001), rTicks, densityTicks),
          legendPlugin(
            [
              { text: "bin=2 kpc", y: 57.5, kind: "none" },
              { text: "Satellite", y: 77.5, kind: "blue" },
              { text: "Detectable DWD distance range", y: 98, kind: "span" },
            ],
            274,
            312,
            14.7,
          ),
        ] as any,
      }),
    );

    charts.push(
      new Chart(r4.current!, {
        type: "bar",
        data: { datasets: [...spanSets(ageSpans, 1), barSet(ageBins, ageCumulative)] as any },
        options: baseOptions(
          { top: 0, right: 0, left: 0, bottom: 0 },
          axis("Age (Gyr)", 7, 13, ageTicks, intFmt, (s) => (s.height = 52), { top: 0, bottom: 1 }, 5),
          axis("", 0, 1, cumTicks, (v) => v.toFixed(1), (s) => (s.width = 77), { top: 0, bottom: 0 }, 5),
          "cumulative histogram of age (Normalized)",
        ) as any,
        plugins: [
          framePlugin(range(7, 13, 0.2), range(0, 1, 0.05), [...ageTicks, 13], cumTicks),
          legendPlugin(
            [
              { text: "bin=0.125 Gyr", y: 57.5, kind: "none" },
              { text: "Satellite", y: 77.5, kind: "blue" },
              { text: "Detectable DWD age range", y: 98, kind: "span" },
            ],
            90,
            129,
            14.7,
          ),
        ] as any,
      }),
    );

    return () => charts.forEach((c) => c.destroy());
  }, []);

  return (
    <div style={{ position: "absolute", left: 0, top: 0, width: 1040, height: 986, overflow: "hidden", background: "#fff" }}>
      <canvas ref={r1} width={535} height={470} style={canvasStyle(0, 0)} />
      <canvas ref={r2} width={515} height={470} style={canvasStyle(525, 0)} />
      <canvas ref={r3} width={535} height={516} style={canvasStyle(0, 470)} />
      <canvas ref={r4} width={515} height={516} style={canvasStyle(525, 470)} />
    </div>
  );
}
